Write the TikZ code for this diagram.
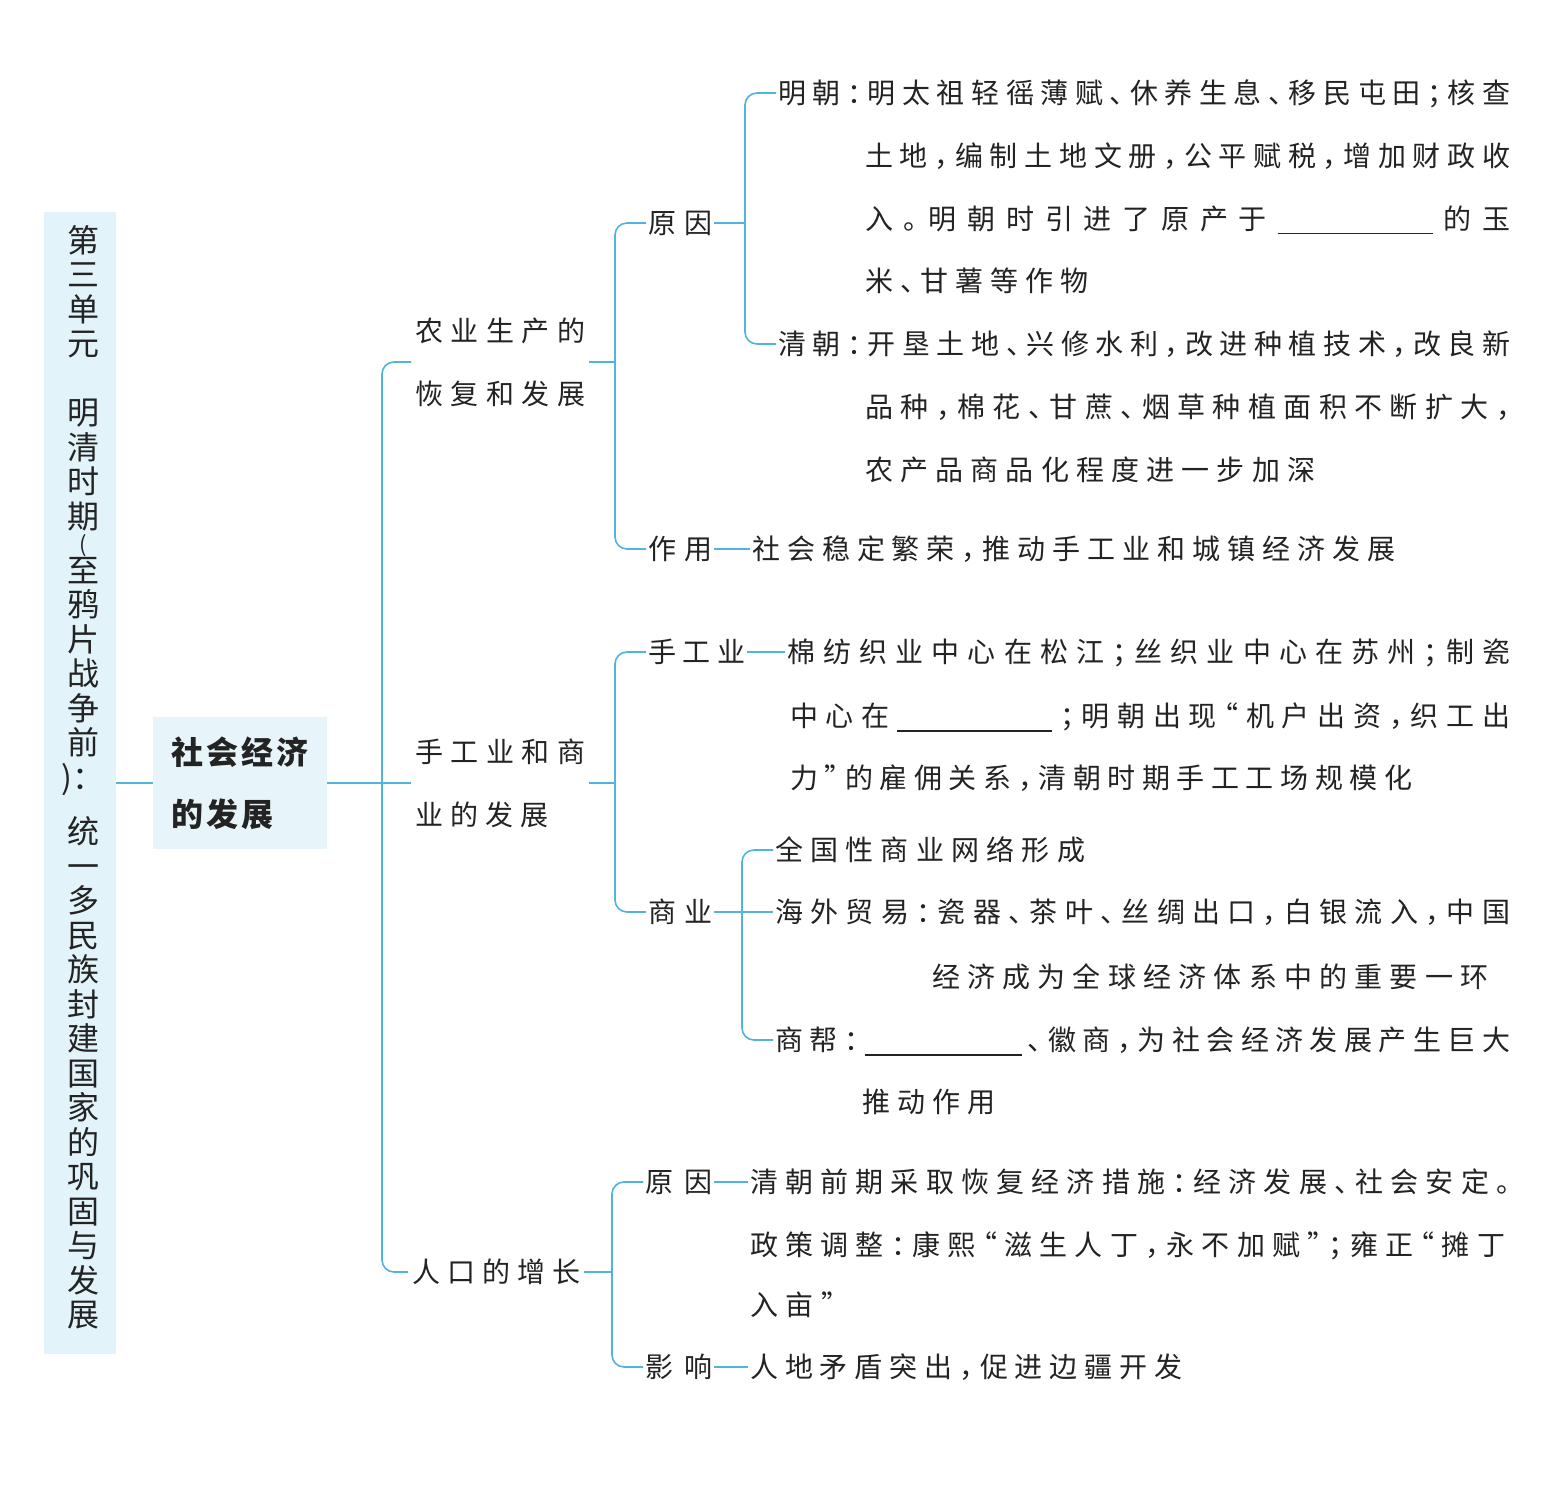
\documentclass[tikz,border=0pt]{standalone}
\usepackage{fontspec}
\setmainfont{Noto Sans CJK SC}
\newfontfamily\halffont{Noto Sans CJK SC}[RawFeature=+halt]
\usetikzlibrary{calc}
\definecolor{conn}{RGB}{80,180,222}
\definecolor{bannerbg}{RGB}{226,243,249}
\definecolor{boxbg}{RGB}{231,245,250}
\definecolor{ink}{RGB}{35,35,35}
\makeatletter
\newcommand\spr[2]{\hbox to #1pt{\@tfor\sprtok:=#2\do{\sprtok\hfil}\unskip}}
\makeatother
\newcommand\blankfill[1]{\rule[-5pt]{#1pt}{1.3pt}}
\tikzset{
  cn/.style={draw=conn, line width=1.6pt},
  rc/.style={rounded corners=12pt},
  ln/.style={anchor=west, inner xsep=2pt, inner ysep=0pt, text height=24pt, text depth=3pt,
    font=\halffont\fontsize{28}{63}\selectfont, text=ink},
  lvone/.style={anchor=west, inner xsep=4pt, inner ysep=0pt, align=left,
    font=\fontsize{28}{63}\selectfont, text=ink},
}
\begin{document}
\begin{tikzpicture}[x=1pt,y=-1pt]
\useasboundingbox (0,0) rectangle (1552,1495);
\fill[white] (0,0) rectangle (1552,1495);

% banner
\node[fill=bannerbg, minimum width=72pt, minimum height=1142pt, inner sep=0pt] (banner) at (80,783) {};
\node[anchor=north, inner sep=0pt, align=center, font=\fontsize{32}{34.5}\selectfont, text=ink] (btxt) at (83,225)
 {第\\三\\单\\元\\[34.5pt]明\\清\\时\\期\\[-10.5pt]{\fontsize{22}{22}\selectfont(}\\[-4.5pt]至\\鸦\\片\\战\\争\\前\\)：\\[20pt]统\\一\\多\\民\\族\\封\\建\\国\\家\\的\\巩\\固\\与\\发\\展};

% main box
\node[fill=boxbg, minimum width=174pt, minimum height=132pt, inner sep=0pt, align=left,
  font=\fontsize{32}{62}\selectfont\bfseries, text=ink] (sebox) at (240,783)
  {\spr{138}{社会经济}\\\spr{103}{的发展}};

% level 1
\node[lvone] (ny) at (411,362) {\spr{170}{农业生产的}\\\spr{170}{恢复和发展}};
\node[lvone] (sg) at (411,783) {\spr{170}{手工业和商}\\\spr{133}{业的发展}};
\node[lvone, text height=24pt, text depth=3pt] (rk) at (408,1272) {\spr{168}{人口的增长}};

% level 2 labels
\node[ln] (yy) at (646,223) {\spr{64}{原因}};
\node[ln] (zy) at (646,549) {\spr{64}{作用}};
\node[ln] (sgy) at (646,652) {\spr{97}{手工业}};
\node[ln] (sy) at (646,912) {\spr{64}{商业}};
\node[ln] (ry) at (643,1182) {\spr{67}{原因}};
\node[ln] (yx) at (643,1367) {\spr{67}{影响}};

% content lines
\node[ln] (ming1) at (776,93) {\spr{732}{明朝：明太祖轻徭薄赋、休养生息、移民屯田；核查}};
\node[ln] (ming2) at (863,156) {\spr{645}{土地，编制土地文册，公平赋税，增加财政收}};
\node[ln] (ming3) at (863,219) {\spr{645}{入。明朝时引进了原产于{\blankfill{155}}的玉}};
\node[ln] (ming4) at (863,281) {\spr{223}{米、甘薯等作物}};
\node[ln] (qing1) at (776,344) {\spr{732}{清朝：开垦土地、兴修水利，改进种植技术，改良新}};
\node[ln] (qing2) at (863,407) {\spr{645}{品种，棉花、甘蔗、烟草种植面积不断扩大，}};
\node[ln] (qing3) at (863,470) {\spr{450}{农产品商品化程度进一步加深}};
\node[ln] (zy1) at (750,549) {\spr{643}{社会稳定繁荣，推动手工业和城镇经济发展}};
\node[ln] (sgy1) at (785,652) {\spr{723}{棉纺织业中心在松江；丝织业中心在苏州；制瓷}};
\node[ln] (sgy2) at (788,716) {\spr{720}{中心在{\blankfill{155}}；明朝出现“机户出资，织工出}};
\node[ln] (sgy3) at (788,778) {\spr{622}{力”的雇佣关系，清朝时期手工工场规模化}};
\node[ln] (quan) at (773,850) {\spr{310}{全国性商业网络形成}};
\node[ln] (hai1) at (773,912) {\spr{735}{海外贸易：瓷器、茶叶、丝绸出口，白银流入，中国}};
\node[ln] (hai2) at (930,977) {\spr{556}{经济成为全球经济体系中的重要一环}};
\node[ln] (bang1) at (773,1040) {\spr{735}{商帮：{\blankfill{157}}、徽商，为社会经济发展产生巨大}};
\node[ln] (bang2) at (860,1102) {\spr{133}{推动作用}};
\node[ln] (ry1) at (748,1182) {\spr{760}{清朝前期采取恢复经济措施：经济发展、社会安定。}};
\node[ln] (ry2) at (748,1245) {\spr{755}{政策调整：康熙“滋生人丁，永不加赋”；雍正“摊丁}};
\node[ln] (ry3) at (748,1305) {\spr{85}{入亩”}};
\node[ln] (yx1) at (748,1367) {\spr{432}{人地矛盾突出，促进边疆开发}};

% junction coordinates
\coordinate (t1) at (sebox.east -| 382,0);
\coordinate (t2) at (ny.east -| 615,0);
\coordinate (t3) at (yy.east -| 745,0);
\coordinate (t4) at (sg.east -| 615,0);
\coordinate (t5) at (sy.east -| 742,0);
\coordinate (t6) at (rk.east -| 612,0);

% connectors
\draw[cn] (banner.east) -- (sebox.west);
\draw[cn] (sebox.east) -- (sg.west);
\draw[cn,rc] (ny.west) -| (t1) |- (rk.west);

\draw[cn] (ny.east) -- (t2);
\draw[cn,rc] (yy.west) -| (t2) |- (zy.west);
\draw[cn] (yy.east) -- (t3);
\draw[cn,rc] (ming1.west) -| (t3) |- (qing1.west);
\draw[cn] (zy.east) -- (zy1.west);

\draw[cn] (sg.east) -- (t4);
\draw[cn,rc] (sgy.west) -| (t4) |- (sy.west);
\draw[cn] (sgy.east) -- (sgy1.west);
\draw[cn] (sy.east) -- (hai1.west);
\draw[cn,rc] (quan.west) -| (t5) |- (bang1.west);

\draw[cn] (rk.east) -- (t6);
\draw[cn,rc] (ry.west) -| (t6) |- (yx.west);
\draw[cn] (ry.east) -- (ry1.west);
\draw[cn] (yx.east) -- (yx1.west);
\end{tikzpicture}
\end{document}
